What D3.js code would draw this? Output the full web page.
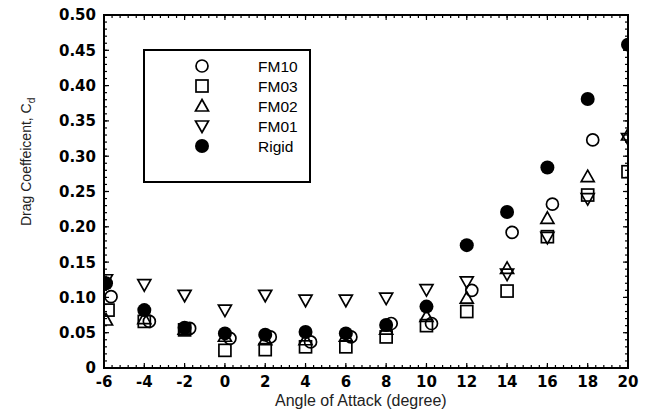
<!DOCTYPE html>
<html>
<head>
<meta charset="utf-8">
<script src="https://cdn.jsdelivr.net/npm/d3@7"></script>
<style>
  html, body { margin: 0; padding: 0; background: #fff; }
  svg { display: block; }
</style>
</head>
<body>
<svg id="chart" width="652" height="410"></svg>
<script>
// ---------- data ----------
const xTicks = [-6, -4, -2, 0, 2, 4, 6, 8, 10, 12, 14, 16, 18, 20];
const yTicks = [0, 0.05, 0.10, 0.15, 0.20, 0.25, 0.30, 0.35, 0.40, 0.45, 0.50];
const yTickLabels = ["0", "0.05", "0.10", "0.15", "0.20", "0.25", "0.30", "0.35", "0.40", "0.45", "0.50"];

const fm10Angle = [-5.65, -3.75, -1.75, 0.25, 2.25, 4.25, 6.25, 8.25, 10.25, 12.25, 14.25, 16.25, 18.25];
const fm10Cd    = [0.101, 0.066, 0.056, 0.042, 0.044, 0.037, 0.044, 0.063, 0.063, 0.110, 0.192, 0.232, 0.323];

const fm03Angle = [-5.8, -4, -2, 0, 2, 4, 6, 8, 10, 12, 14, 16, 18, 20];
const fm03Cd    = [0.082, 0.066, 0.054, 0.025, 0.026, 0.030, 0.030, 0.044, 0.060, 0.080, 0.109, 0.186, 0.245, 0.278];

const fm02Angle = [-5.9, -4, -2, 0, 2, 4, 6, 8, 10, 12, 14, 16, 18, 20];
const fm02Cd    = [0.068, 0.070, 0.055, 0.045, 0.040, 0.040, 0.045, 0.055, 0.073, 0.099, 0.141, 0.212, 0.271, 0.330];

const fm01Angle = [-5.9, -4, -2, 0, 2, 4, 6, 8, 10, 12, 14, 16, 18, 20];
const fm01Cd    = [0.125, 0.118, 0.103, 0.082, 0.103, 0.096, 0.096, 0.099, 0.111, 0.122, 0.133, 0.185, 0.240, 0.325];

const rigidAngle = [-5.9, -4, -2, 0, 2, 4, 6, 8, 10, 12, 14, 16, 18, 20];
const rigidCd    = [0.120, 0.082, 0.057, 0.049, 0.047, 0.051, 0.049, 0.061, 0.087, 0.174, 0.221, 0.284, 0.381, 0.458];

const seriesNames = ["FM10", "FM03", "FM02", "FM01", "Rigid"];

// ---------- layout ----------
const svg = d3.select("#chart");
const L = 104, R = 628, T = 15, B = 368;
const x = d3.scaleLinear().domain([-6, 20]).range([L, R]);
const y = d3.scaleLinear().domain([0, 0.5]).range([B, T]);

const sym = {
  FM10: g => g.append("circle").attr("r", 6).attr("fill", "none").attr("stroke", "#000").attr("stroke-width", 1.7),
  FM03: g => g.append("rect").attr("x", -6).attr("y", -6).attr("width", 12).attr("height", 12)
              .attr("fill", "none").attr("stroke", "#000").attr("stroke-width", 1.7),
  FM02: g => g.append("path").attr("d", "M0,-6.5L6.5,5L-6.5,5Z")
              .attr("fill", "none").attr("stroke", "#000").attr("stroke-width", 1.7),
  FM01: g => g.append("path").attr("d", "M0,6.5L6.5,-5L-6.5,-5Z")
              .attr("fill", "none").attr("stroke", "#000").attr("stroke-width", 1.7),
  Rigid: g => g.append("circle").attr("r", 7).attr("fill", "#000")
};

svg.append("defs").append("clipPath").attr("id", "plotclip")
  .append("rect").attr("x", L).attr("y", T).attr("width", R - L).attr("height", B - T);

// ---------- ticks (inward, all four sides) ----------
const tg = svg.append("g").attr("stroke", "#000").attr("stroke-width", 1.2);
const xMinor = d3.range(-6, 20.001, 0.4);
const yMinor = d3.range(0, 0.5001, 0.01);
xMinor.forEach(v => {
  const px = x(v);
  tg.append("line").attr("x1", px).attr("x2", px).attr("y1", B).attr("y2", B - 3);
  tg.append("line").attr("x1", px).attr("x2", px).attr("y1", T).attr("y2", T + 3);
});
yMinor.forEach(v => {
  const py = y(v);
  tg.append("line").attr("x1", L).attr("x2", L + 3).attr("y1", py).attr("y2", py);
  tg.append("line").attr("x1", R).attr("x2", R - 3).attr("y1", py).attr("y2", py);
});
xTicks.forEach(v => {
  const px = x(v);
  tg.append("line").attr("x1", px).attr("x2", px).attr("y1", B).attr("y2", B - 5);
  tg.append("line").attr("x1", px).attr("x2", px).attr("y1", T).attr("y2", T + 5);
});
yTicks.forEach(v => {
  const py = y(v);
  tg.append("line").attr("x1", L).attr("x2", L + 5).attr("y1", py).attr("y2", py);
  tg.append("line").attr("x1", R).attr("x2", R - 5).attr("y1", py).attr("y2", py);
});

// ---------- tick labels ----------
const lab = svg.append("g").attr("font-family", "DejaVu Sans, sans-serif")
  .attr("font-weight", "bold").attr("font-size", 15).attr("fill", "#000");
xTicks.forEach(v => {
  lab.append("text").attr("x", x(v)).attr("y", 387).attr("text-anchor", "middle").text(String(v));
});
yTicks.forEach((v, i) => {
  lab.append("text").attr("x", 96).attr("y", y(v)).attr("dy", "0.36em")
    .attr("text-anchor", "end").text(yTickLabels[i]);
});

// ---------- axis titles ----------
svg.append("text").attr("x", 275).attr("y", 406)
  .attr("font-family", "Liberation Sans, Arial, sans-serif").attr("font-size", 16)
  .attr("fill", "#222").text("Angle of Attack (degree)");

const yt = svg.append("text").attr("transform", "translate(31,226) rotate(-90)")
  .attr("font-family", "Liberation Sans, Arial, sans-serif").attr("font-size", 14)
  .attr("fill", "#222");
yt.append("tspan").text("Drag Coeffeicent, C");
yt.append("tspan").attr("font-size", 10).attr("dy", 4).text("d");

// ---------- data marks ----------
const plot = svg.append("g").attr("clip-path", "url(#plotclip)");
const seriesData = {
  FM10: [fm10Angle, fm10Cd],
  FM03: [fm03Angle, fm03Cd],
  FM02: [fm02Angle, fm02Cd],
  FM01: [fm01Angle, fm01Cd],
  Rigid: [rigidAngle, rigidCd]
};
seriesNames.forEach(name => {
  const [ax, cd] = seriesData[name];
  ax.forEach((a, i) => {
    const g = plot.append("g").attr("transform", `translate(${x(a)},${y(cd[i])})`);
    sym[name](g);
  });
});

// ---------- frame ----------
svg.append("rect").attr("x", L).attr("y", T).attr("width", R - L).attr("height", B - T)
  .attr("fill", "none").attr("stroke", "#000").attr("stroke-width", 2);

// ---------- legend ----------
const lg = svg.append("g");
lg.append("rect").attr("x", 144).attr("y", 50).attr("width", 166).attr("height", 132)
  .attr("fill", "#fff").attr("stroke", "#000").attr("stroke-width", 2);
const rowY = [66, 86, 106, 126, 146];
seriesNames.forEach((name, i) => {
  const g = lg.append("g").attr("transform", `translate(202,${rowY[i]})`);
  sym[name](g);
  lg.append("text").attr("x", 258).attr("y", rowY[i]).attr("dy", "0.36em")
    .attr("font-family", "Liberation Sans, Arial, sans-serif").attr("font-size", 15.5)
    .attr("fill", "#000").text(name);
});
</script>
</body>
</html>
